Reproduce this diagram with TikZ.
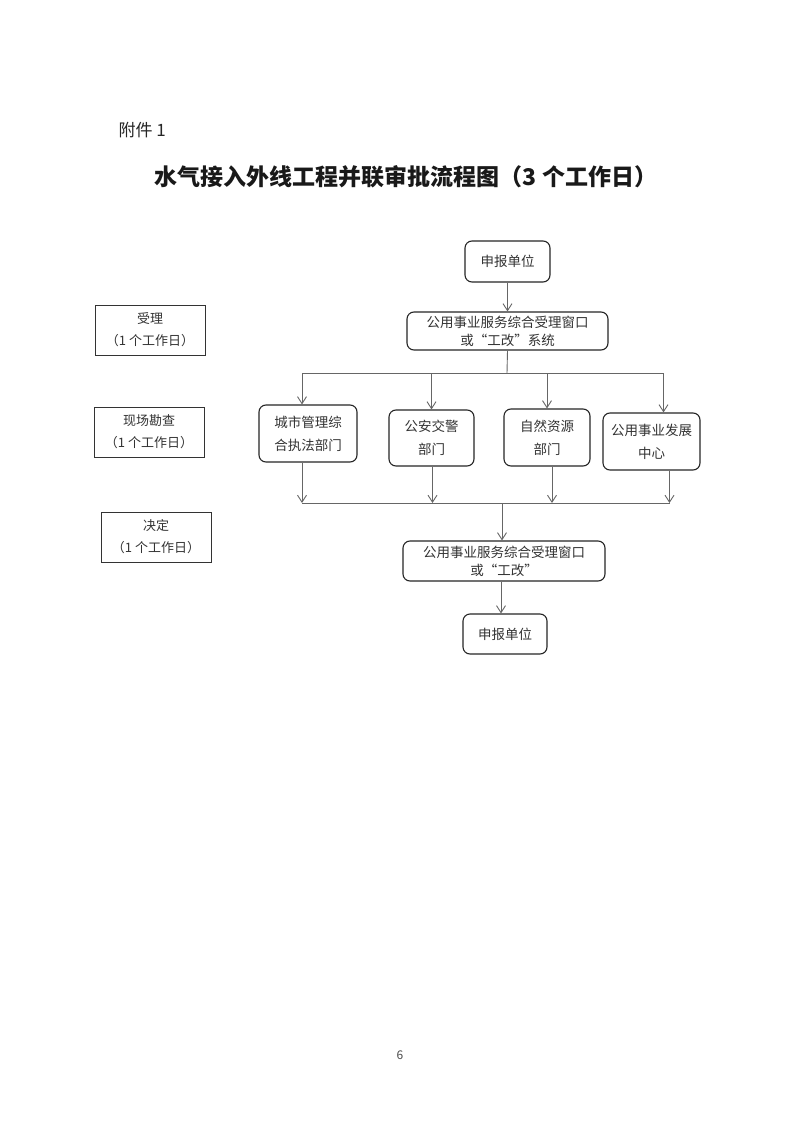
\documentclass[tikz,border=0pt]{standalone}
\usepackage{fontspec}
\newfontfamily\cjk{Noto Sans CJK SC}
\usetikzlibrary{arrows.meta,calc}

\tikzset{
  procbox/.style={draw=black!85, line width=1.1pt, rounded corners=7pt, align=center,
    font=\cjk\fontsize{13.5}{18}\selectfont, text=black!80, inner sep=0pt},
  stagebox/.style={draw=black!80, line width=1pt, align=center,
    font=\cjk\fontsize{13}{22}\selectfont, text=black!80, inner sep=0pt,
    minimum width=110pt, minimum height=50pt},
  link/.style={draw=black!60, line width=0.9pt},
  arr/.style={link, -{Straight Barb[length=7pt,width=9pt]}}
}

\begin{document}
\begin{tikzpicture}[x=1pt,y=-1pt]
    \useasboundingbox[fill=white] (0,0) rectangle (800,1131);

    % Heading
    \node[font=\cjk\fontsize{17}{17}\selectfont, text=black!85, anchor=west] (att) at (115,130) {附件 1};
    \node[font=\cjk\bfseries\fontsize{23}{23}\selectfont, text=black!90] (title) at (406,177)
        {水气接入外线工程并联审批流程图（3 个工作日）};

    % Stages on the left
    \node[stagebox] (s1) at (150,330) {受理\\（1 个工作日）};
    \node[stagebox] (s2) at (149,432) {现场勘查\\（1 个工作日）};
    \node[stagebox] (s3) at (156,537) {决定\\（1 个工作日）};

    % Main flow
    \node[procbox, minimum width=85pt, minimum height=41pt] (apply) at (507.5,261.5) {申报单位};
    \node[procbox, minimum width=201pt, minimum height=38pt] (win) at (507.5,331)
        {公用事业服务综合受理窗口\\或“工改”系统};

    % Departments
    \node[procbox, minimum width=98pt, minimum height=57pt, font=\cjk\fontsize{13.5}{23}\selectfont] (d1) at (308,433.5) {城市管理综\\合执法部门};
    \node[procbox, minimum width=85pt, minimum height=56pt, font=\cjk\fontsize{13.5}{23}\selectfont] (d2) at (431.5,438) {公安交警\\部门};
    \node[procbox, minimum width=86pt, minimum height=57pt, font=\cjk\fontsize{13.5}{23}\selectfont] (d3) at (547,437.5) {自然资源\\部门};
    \node[procbox, minimum width=97pt, minimum height=57pt, font=\cjk\fontsize{13.5}{23}\selectfont] (d4) at (651.5,441.5) {公用事业发展\\中心};

    \node[procbox, minimum width=202pt, minimum height=40pt] (win2) at (504,561)
        {公用事业服务综合受理窗口\\或“工改”};
    \node[procbox, minimum width=84pt, minimum height=40pt] (reply) at (505,634) {申报单位};

    % Split and merge points
    \coordinate (split) at (507,373);
    \coordinate (merge) at (502,503);

    % Connectors
    \draw[arr] (apply.south) -- (win.north);
    \draw[link] (win.south) -- (split);
    \draw[link] ([xshift=-6pt]d1.north |- split) -- ([xshift=12pt]d4.north |- split);
    \draw[arr] ([xshift=-6pt]d1.north |- split) -- ([xshift=-6pt]d1.north);
    \draw[arr] (d2.north |- split) -- (d2.north);
    \draw[arr] (d3.north |- split) -- (d3.north);
    \draw[arr] ([xshift=12pt]d4.north |- split) -- ([xshift=12pt]d4.north);

    \draw[arr] ([xshift=-6pt]d1.south) -- ([xshift=-6pt]d1.south |- merge);
    \draw[arr] ([xshift=1pt]d2.south) -- ([xshift=1pt]d2.south |- merge);
    \draw[arr] ([xshift=5pt]d3.south) -- ([xshift=5pt]d3.south |- merge);
    \draw[arr] ([xshift=18pt]d4.south) -- ([xshift=18pt]d4.south |- merge);
    \draw[link] ([xshift=-6pt]d1.south |- merge) -- ([xshift=18pt]d4.south |- merge);

    \draw[arr] (merge) -- (merge |- win2.north);
    \draw[arr] ([xshift=-3pt]win2.south) -- ([xshift=-3pt]win2.south |- reply.north);

    % Page number
    \node[font=\cjk\fontsize{12}{12}\selectfont, text=black!70] (page) at (400,1055) {6};
\end{tikzpicture}
\end{document}
